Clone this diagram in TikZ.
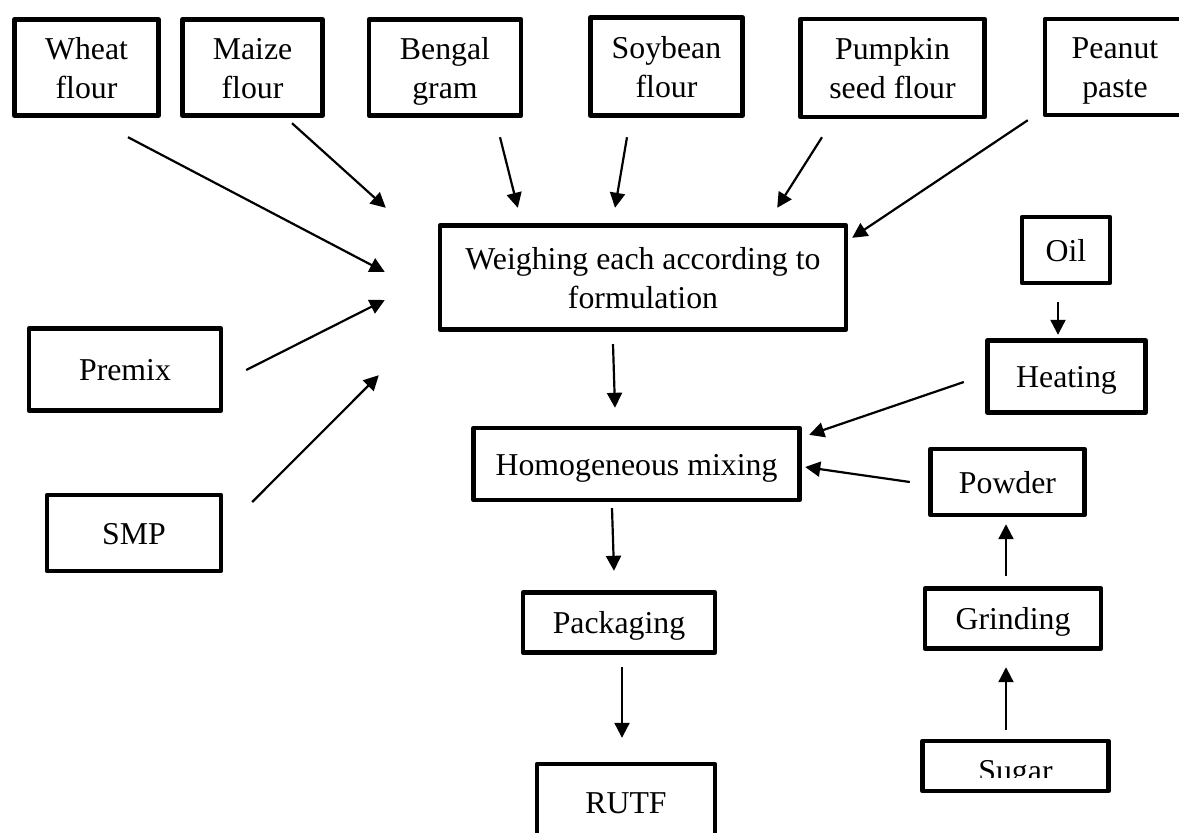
\documentclass[tikz,border=0pt]{standalone}
\usepackage{fontspec}
\setmainfont{Liberation Serif}
\usetikzlibrary{arrows.meta}
% struts: first line 15pt high, last line 4pt deep
\newcommand{\topstrut}{\rule{0pt}{15pt}}
\newcommand{\botstrut}{\rule[-4pt]{0pt}{4pt}}
\newcommand{\lbl}[1]{\topstrut#1\botstrut}

\begin{document}
\begin{tikzpicture}[x=0.5pt,y=-0.5pt,
  box/.style={draw,line width=2.2pt,line join=round,inner sep=0pt,align=center,
    font=\fontsize{15.9}{19.5}\selectfont},
  flow/.style={-{Triangle[length=7.5pt,width=7.5pt]},line width=1.1pt}]

\useasboundingbox (0,0) rectangle (1179,832);
\clip (0,0) rectangle (1179,832);

% ======================= top row: the ingredients =======================
\node[box,minimum width=72pt,minimum height=48pt] (wheat)   at (86.5,67.5)  {\lbl{Wheat\\flour}};
\node[box,minimum width=70pt,minimum height=48pt] (maize)   at (252.5,67.5) {\lbl{Maize\\flour}};
\node[box,minimum width=76pt,minimum height=48pt] (bengal)  at (445,67.5)   {\lbl{Bengal\\gram}};
\node[box,minimum width=76pt,minimum height=49pt] (soy)     at (666.5,66.5) {\lbl{Soybean\\flour}};
\node[box,minimum width=92pt,minimum height=49pt] (pumpkin) at (892.5,68)   {\lbl{Pumpkin\\seed flour}};
\node[box,minimum width=70pt,minimum height=48pt] (peanut)  at (1115,67)    {\lbl{Peanut\\paste}};

% ======================= left side ======================================
\node[box,minimum width=96pt,minimum height=41pt] (premix) at (125,369.5) {\lbl{Premix}};
\node[box,minimum width=87pt,minimum height=38pt] (smp)    at (134,533)   {\lbl{SMP}};

% ======================= main line ======================================
\node[box,minimum width=203pt,minimum height=52pt] (weigh) at (643,277.5)
  {\lbl{Weighing each according to\\formulation}};
\node[box,minimum width=163pt,minimum height=36pt] (mix)  at (636.5,464) {\lbl{Homogeneous mixing}};
\node[box,minimum width=96pt,minimum height=30pt]  (pack) at (619,622.5) {\lbl{Packaging}};
\node[box,minimum width=89pt,minimum height=38pt]  (rutf) at (626,802)   {\lbl{RUTF}};

% ======================= right side: oil and sugar ======================
\node[box,minimum width=44pt,minimum height=33pt] (oil)    at (1066,250)     {\lbl{Oil}};
\node[box,minimum width=79pt,minimum height=36pt] (heat)   at (1066.5,376.5) {\lbl{Heating}};
\node[box,minimum width=77pt,minimum height=33pt] (powder) at (1007.5,482)   {\lbl{Powder}};
\node[box,minimum width=88pt,minimum height=30pt] (grind)  at (1013,618.5)   {\lbl{Grinding}};
\node[box,minimum width=93pt,minimum height=25pt] (sugar)  at (1015.5,766)   {};
\node[anchor=base,inner sep=0pt,font=\fontsize{15.9}{19.5}\selectfont] (sugarlbl) at (1015.5,781) {Sugar};
\fill[white] (925,778) rectangle (1106,788);   % the label is cut at the bottom

% ======================= arrows into the weighing box ===================
\draw[flow] ([shift={(41.5,19.5)}]wheat.south)   -- ([shift={(-53,-5.5)}]weigh.west);
\draw[flow] ([shift={(39.5,5.5)}]maize.south)    -- ([shift={(-52,-15.5)}]weigh.north west);
\draw[flow] ([shift={(55,19.5)}]bengal.south)    -- ([shift={(80,-15.5)}]weigh.north west);
\draw[flow] ([shift={(-39.5,19.5)}]soy.south)    -- ([shift={(-28,-15.5)}]weigh.north);
\draw[flow] ([shift={(-70.5,18)}]pumpkin.south)  -- ([shift={(-71,-15.5)}]weigh.north east);
\draw[flow] ([shift={(-15,3)}]peanut.south west) -- ([shift={(4,14.5)}]weigh.north east);
\draw[flow] ([shift={(23,0.5)}]premix.east)      -- ([shift={(-53,22.5)}]weigh.west);
\draw[flow] ([shift={(29,-31)}]smp.east)         -- ([shift={(-59,43.5)}]weigh.south west);

% ======================= the rest of the flow ===========================
\draw[flow] ([shift={(-30,12.5)}]weigh.south)  -- ([shift={(-21.5,-18)}]mix.north);
\draw[flow] ([shift={(-21.5,5.5)}]heat.west)   -- ([shift={(7.5,9)}]mix.north east);
\draw[flow] ([shift={(-18.5,0)}]powder.west)   -- ([shift={(3.5,3)}]mix.east);
\draw[flow] ([shift={(-8,17)}]oil.south)       -- ([shift={(-8.5,-3.5)}]heat.north);
\draw[flow] ([shift={(-24.5,6)}]mix.south)     -- ([shift={(-5,-19.5)}]pack.north);
\draw[flow] ([shift={(3,12.5)}]pack.south)     -- ([shift={(-4,-24)}]rutf.north);
\draw[flow] ([shift={(-7,-10.5)}]grind.north)  -- ([shift={(-1.5,7)}]powder.south);
\draw[flow] ([shift={(-9.5,-9)}]sugar.north)   -- ([shift={(-7,16.5)}]grind.south);

\end{tikzpicture}
\end{document}
